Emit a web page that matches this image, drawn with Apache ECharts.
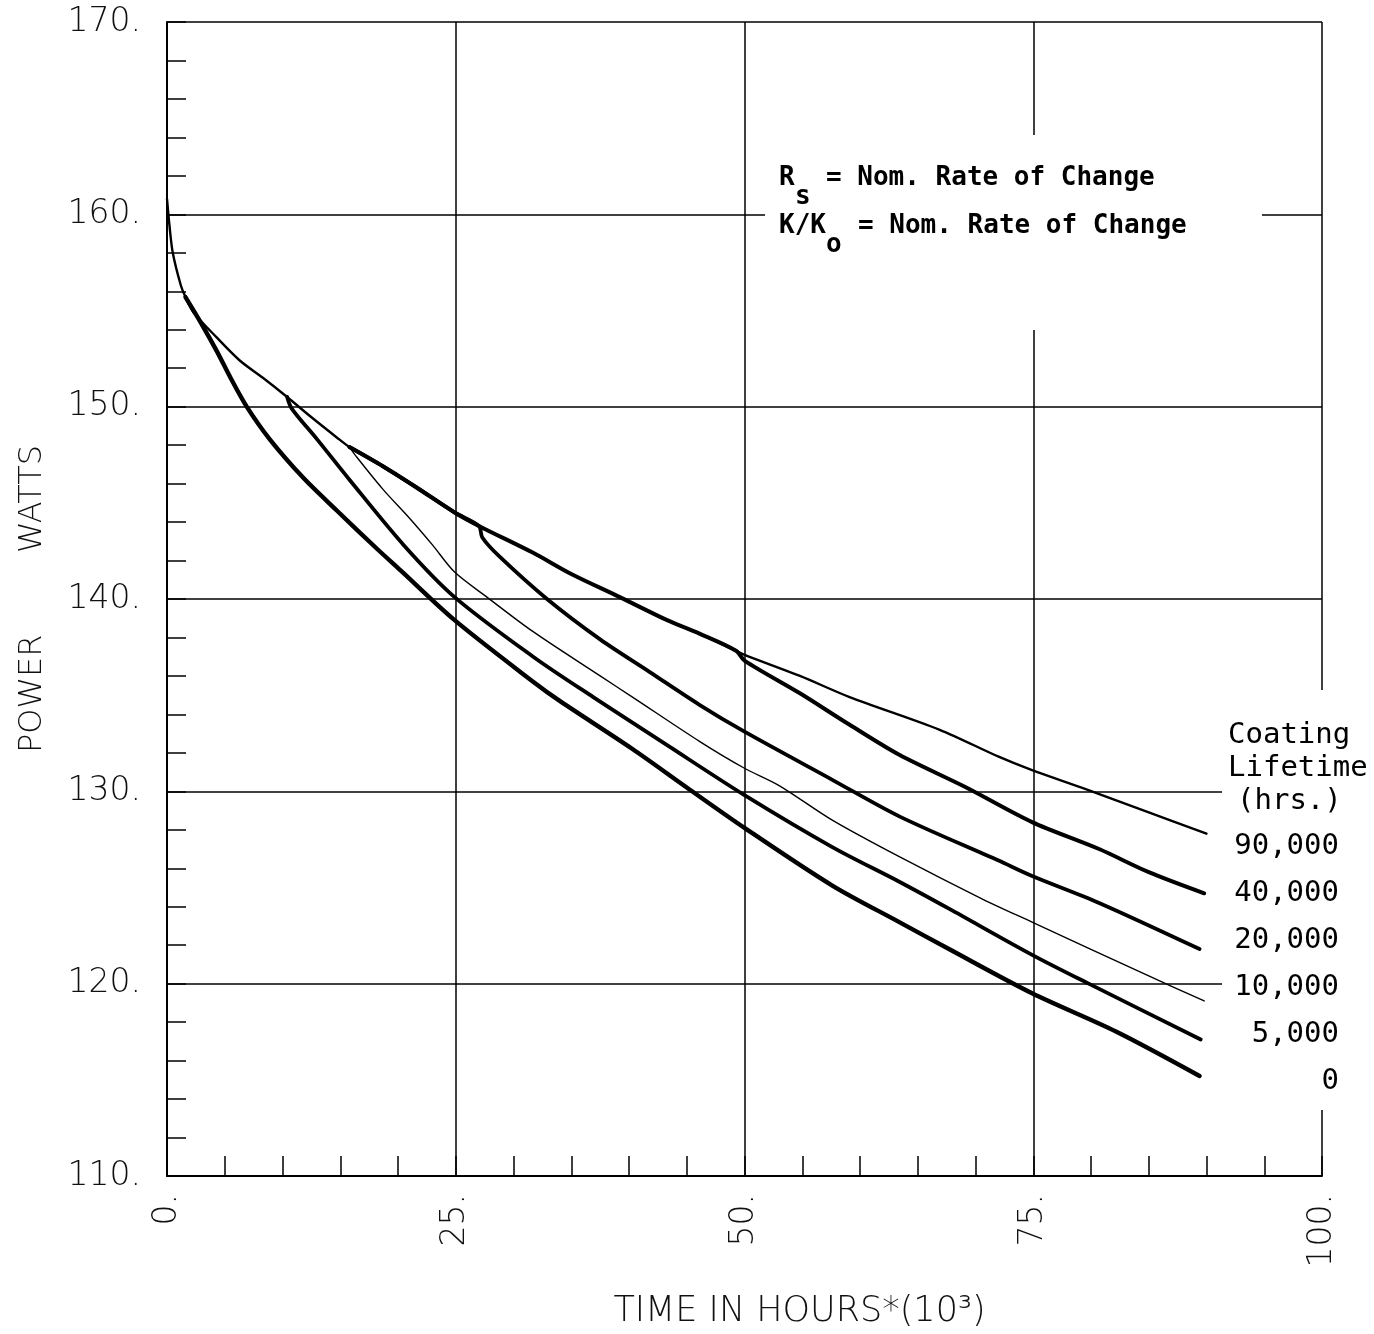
<!DOCTYPE html>
<html>
<head>
<meta charset="utf-8">
<script src="https://cdn.jsdelivr.net/npm/echarts@6/dist/echarts.min.js"></script>
<style>
  html, body { margin: 0; padding: 0; background: #fff; }
  #chart { width: 1374px; height: 1334px; }
</style>
</head>
<body>
<div id="chart"></div>
<script>
// ---------- DATA ----------
// x = time in hours * 10^3, y = power in watts
const curve90k = [[0,160.8],[0.2,159.5],[0.5,158.0],[1.2,156.3],[1.6,155.7],[2.3,154.9],[4.3,153.6],[6.3,152.4],[8.3,151.5],[10.4,150.5],[12.4,149.5],[14.7,148.4],[15.8,147.9],[18.7,146.9],[21.6,145.8],[24.9,144.5],[27.0,143.8],[31.7,142.4],[35.0,141.3],[39.2,140.1],[43.3,138.9],[46.1,138.2],[49.3,137.3],[50.0,137.1],[54.8,136.0],[59.1,134.9],[66.9,133.2],[72.0,131.8],[74.9,131.1],[79.6,130.1],[85.0,128.9],[90.0,127.8]];
const branch40k = [[49.3,137.3],[50.0,136.8],[54.8,135.1],[59.0,133.5],[63.4,131.9],[69.2,130.2],[74.9,128.4],[80.7,127.0],[85.0,125.8],[89.8,124.7]];
const branch20k = [[27.0,143.8],[27.3,143.2],[28.8,142.2],[32.9,140.0],[37.5,137.9],[41.8,136.2],[46.1,134.5],[50.0,133.1],[57.6,130.6],[63.4,128.7],[72.0,126.4],[74.9,125.6],[80.7,124.2],[89.4,121.8]];
const branch10k = [[15.8,147.9],[16.4,147.4],[18.7,145.7],[21.0,144.2],[23.0,142.8],[24.9,141.4],[27.7,140.1],[31.7,138.3],[37.5,136.0],[40.3,134.9],[46.1,132.6],[50.0,131.2],[53.0,130.3],[57.6,128.5],[63.4,126.6],[70.6,124.4],[74.9,123.2],[85.0,120.4],[89.8,119.1]];
const branch5k = [[10.4,150.5],[10.8,149.9],[13.0,148.3],[15.8,146.2],[20.5,142.8],[24.9,140.1],[31.7,137.0],[36.9,134.9],[43.3,132.4],[50.0,129.8],[57.6,127.1],[63.4,125.3],[67.7,123.9],[74.9,121.5],[79.8,120.0],[89.5,117.1]];
const branch0 = [[1.6,155.7],[2.9,154.4],[4.3,152.9],[5.5,151.5],[6.9,150.0],[8.9,148.3],[11.8,146.3],[14.7,144.6],[18.2,142.6],[20.2,141.5],[24.9,138.9],[31.7,135.7],[34.0,134.7],[40.3,132.2],[45.0,130.2],[50.0,128.1],[57.6,125.1],[63.4,123.2],[67.7,121.8],[74.9,119.5],[82.2,117.5],[89.4,115.2]];

const lifetimeLabels = ['90,000','40,000','20,000','10,000','5,000','0'];
const legendTitle = ['Coating','Lifetime','(hrs.)'];
const xTicks = [0, 25, 50, 75, 100];
const yTicks = [110, 120, 130, 140, 150, 160, 170];
const xName = 'TIME IN HOURS*(10\u00B3)';
const yName = 'POWER        WATTS';
const note1 = ['R', 's', '= Nom. Rate of Change'];
const note2 = ['K/K', 'o', '= Nom. Rate of Change'];

// the thick upper-envelope part is shared by the 40,000 and 20,000 curves
function envelopeFrom(x0, x1) { return curve90k.filter(p => p[0] >= x0 && p[0] <= x1); }
const data40k = envelopeFrom(15.8, 49.2).concat(branch40k);
const data20k = envelopeFrom(15.8, 26.9).concat(branch20k);

// ---------- CHART ----------
const chart = echarts.init(document.getElementById('chart'), null, { renderer: 'canvas' });
const tickFont = '"DejaVu Sans"';
const monoFont = '"DejaVu Sans Mono"';

function lineSeries(name, data, width) {
  return { name, type: 'line', data, showSymbol: false, symbol: 'none', smooth: 0.3,
           lineStyle: { color: '#000', width, cap: 'round', join: 'round' }, z: 5, silent: true };
}

const graphic = [
  { type: 'rect', shape: { x: 765, y: 135, width: 497, height: 195 }, style: { fill: '#fff' }, z: 50 },
  { type: 'rect', shape: { x: 1222, y: 690, width: 152, height: 420 }, style: { fill: '#fff' }, z: 50 },
  { type: 'text', x: 779, y: 178, z: 60, style: { text: note1[0], font: 'bold 26px ' + monoFont, fill: '#000', align: 'left', verticalAlign: 'middle' } },
  { type: 'text', x: 795, y: 197, z: 60, style: { text: note1[1], font: 'bold 26px ' + monoFont, fill: '#000', align: 'left', verticalAlign: 'middle' } },
  { type: 'text', x: 826, y: 178, z: 60, style: { text: note1[2], font: 'bold 26px ' + monoFont, fill: '#000', align: 'left', verticalAlign: 'middle' } },
  { type: 'text', x: 779, y: 226, z: 60, style: { text: note2[0], font: 'bold 26px ' + monoFont, fill: '#000', align: 'left', verticalAlign: 'middle' } },
  { type: 'text', x: 826, y: 245, z: 60, style: { text: note2[1], font: 'bold 26px ' + monoFont, fill: '#000', align: 'left', verticalAlign: 'middle' } },
  { type: 'text', x: 858, y: 226, z: 60, style: { text: note2[2], font: 'bold 26px ' + monoFont, fill: '#000', align: 'left', verticalAlign: 'middle' } }
];
const titleX = [1228, 1228, 1237];
legendTitle.forEach((t, i) => {
  graphic.push({ type: 'text', x: titleX[i], y: 735 + i * 33, z: 60,
    style: { text: t, font: '29px ' + monoFont, fill: '#000', align: 'left', verticalAlign: 'middle' } });
});
lifetimeLabels.forEach((t, i) => {
  graphic.push({ type: 'text', x: 1339, y: 846 + i * 47, z: 60,
    style: { text: t, font: '29px ' + monoFont, fill: '#000', align: 'right', verticalAlign: 'middle' } });
});

chart.setOption({
  backgroundColor: '#fff',
  animation: false,
  grid: { left: 167, right: 52, top: 22, bottom: 157, containLabel: false },
  xAxis: {
    type: 'value', min: xTicks[0], max: xTicks[xTicks.length - 1], interval: 25,
    axisLine: { show: true, onZero: false, lineStyle: { color: '#000', width: 2 } },
    axisTick: { show: true, inside: true, length: 20, lineStyle: { color: '#000', width: 1.5 } },
    minorTick: { show: true, splitNumber: 5, length: 20, lineStyle: { color: '#000', width: 1.5 } },
    splitLine: { show: true, lineStyle: { color: '#000', width: 1.5 } },
    axisLabel: { rotate: 90, margin: 18, formatter: v => v + '.', fontFamily: tickFont, fontWeight: 200, fontSize: 33, color: '#111' },
    name: xName, nameLocation: 'middle', nameGap: 118,
    nameTextStyle: { fontFamily: tickFont, fontWeight: 200, fontSize: 35, color: '#111', padding: [0, 0, 0, 110] }
  },
  yAxis: {
    type: 'value', min: yTicks[0], max: yTicks[yTicks.length - 1], interval: 10,
    axisLine: { show: true, onZero: false, lineStyle: { color: '#000', width: 2 } },
    axisTick: { show: true, inside: true, length: 19, lineStyle: { color: '#000', width: 1.5 } },
    minorTick: { show: true, splitNumber: 5, length: 19, lineStyle: { color: '#000', width: 1.5 } },
    splitLine: { show: true, lineStyle: { color: '#000', width: 1.5 } },
    axisLabel: { margin: 26, formatter: v => v + '.', fontFamily: tickFont, fontWeight: 200, fontSize: 33, color: '#111' },
    name: yName, nameLocation: 'middle', nameRotate: 90, nameGap: 118,
    nameTextStyle: { fontFamily: tickFont, fontWeight: 200, fontSize: 32, color: '#111' }
  },
  series: [
    lineSeries('90,000', curve90k, 2.4),
    lineSeries('40,000', data40k, 4.0),
    lineSeries('20,000', data20k, 3.8),
    lineSeries('10,000', branch10k, 1.4),
    lineSeries('5,000', branch5k, 3.8),
    lineSeries('0', branch0, 4.4)
  ],
  graphic
});
</script>
</body>
</html>
